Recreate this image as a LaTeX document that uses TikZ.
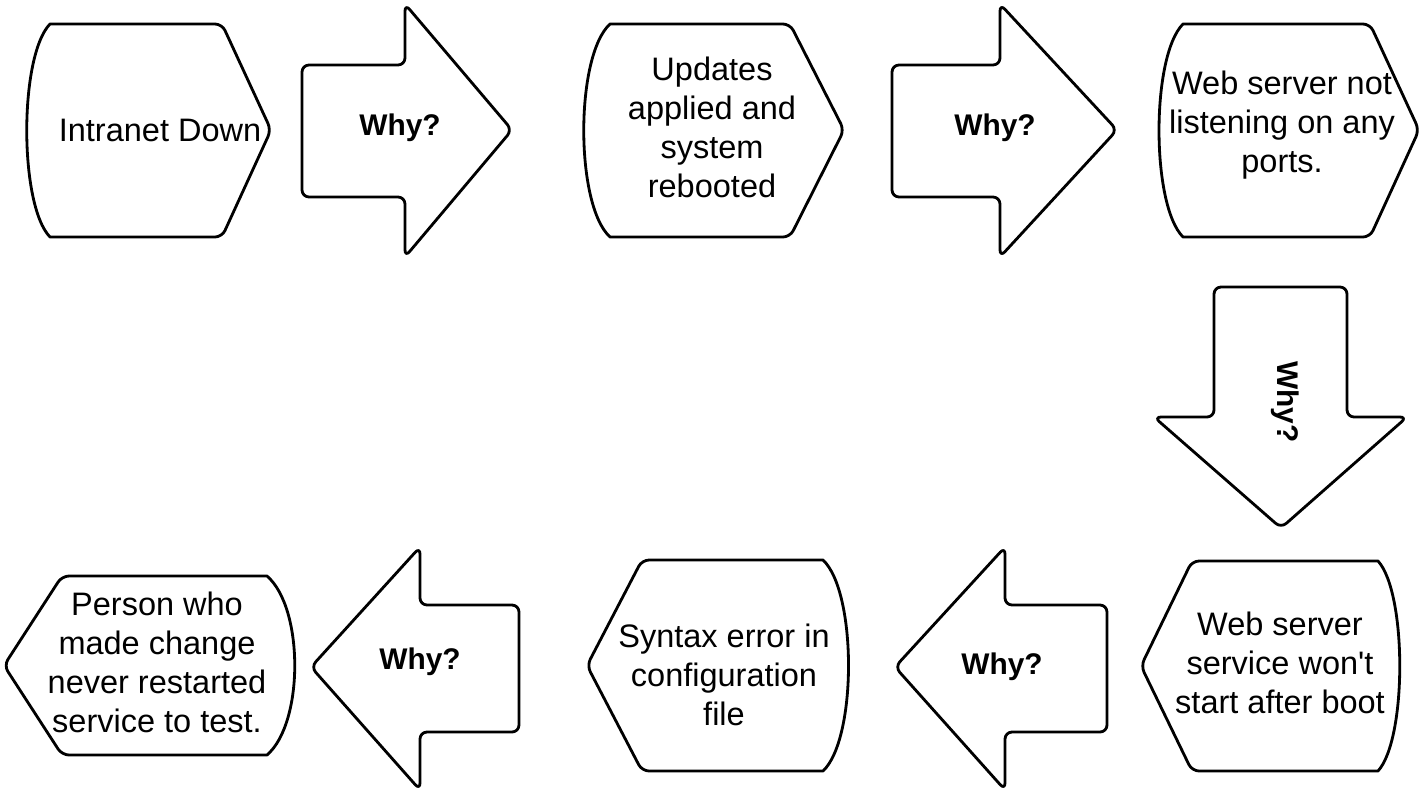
\documentclass[tikz,border=0pt]{standalone}
\usepackage{fontspec}
\setmainfont{Liberation Sans}

\begin{document}
\begin{tikzpicture}[x=0.02cm,y=-0.02cm,
    shp/.style={draw, line width=1.6pt, line join=round, line cap=round},
    rc/.style={rounded corners=0.14cm},
    txt/.style={align=center, font=\fontsize{18.5}{22.2}\selectfont},
    why/.style={font=\fontsize{17}{20}\selectfont\bfseries}]
    \useasboundingbox (0,0) rectangle (1425,799);

    % top row: boxes pointing right
    \foreach \b/\a/\c/\p in {28/50/222/271, 584/610/790/844, 1160/1183/1370/1419} {
        \draw[shp] (\a,24) [rc] -- (\c,24) -- (\p,130) -- (\c,237) [sharp corners] -- (\a,237)
            .. controls (\b-9,205) and (\b-9,56) .. (\a,24) -- cycle;
    }
    \node[txt] (intranet) at (160,130) {Intranet Down};
    \node[txt] (updates) at (712,127) {Updates\\applied and\\system\\rebooted};
    \node[txt] (notlisten) at (1282,125) {Web server not\\listening on any\\ports.};

    % arrows to the right
    \foreach \s/\h/\p in {302/405/512, 892/1000/1117} {
        \draw[shp, rc] (\s,65) -- (\h,65) -- (\h,4) -- (\p,130) -- (\h,257) -- (\h,197) -- (\s,197) -- cycle;
    }
    \node[why] (why1) at (400,128) {Why?};
    \node[why] (why2) at (995,128) {Why?};

    % arrow down
    \draw[shp, rc] (1214,287) -- (1347,287) -- (1347,417) -- (1407,417) -- (1281,528)
        -- (1154,417) -- (1214,417) -- cycle;
    \node[why, rotate=-90] (why3) at (1285,402) {Why?};

    % bottom row: boxes pointing left
    \foreach \p/\a/\c/\b/\t/\u in {1141/1192/1378/1398/561/771, 587/642/823/848/560/771, 4/62/267/295/576/755} {
        \draw[shp] (\c,\t) [rc] -- (\a,\t) -- (\p,{(\t+\u)/2}) -- (\a,\u) [sharp corners] -- (\c,\u)
            .. controls (\b+9,\u-32) and (\b+9,\t+32) .. (\c,\t) -- cycle;
    }
    \node[txt] (nostart) at (1280,663) {Web server\\service won\textquotesingle t\\start after boot};
    \node[txt] (syntax) at (724,675) {Syntax error in\\configuration\\file};
    \node[txt] (person) at (157,662) {Person who\\made change\\never restarted\\service to test.};

    % arrows to the left
    \foreach \s/\h/\p in {1107/1005/895, 519/420/311} {
        \draw[shp, rc] (\s,605) -- (\h,605) -- (\h,547) -- (\p,667) -- (\h,790) -- (\h,732) -- (\s,732) -- cycle;
    }
    \node[why] (why4) at (1002,667) {Why?};
    \node[why] (why5) at (420,662) {Why?};
\end{tikzpicture}
\end{document}
